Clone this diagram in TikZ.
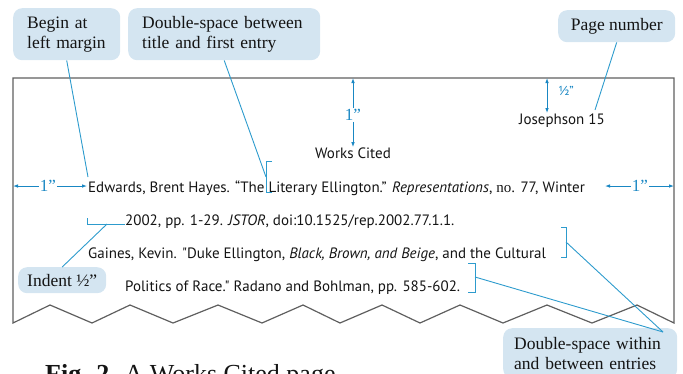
\documentclass[tikz,border=0pt]{standalone}
\usepackage{fontspec}
\setmainfont{Liberation Serif}
\newfontfamily\pagefont{PT Sans}
\usetikzlibrary{arrows.meta}
\definecolor{lead}{RGB}{45,155,205}
\definecolor{calloutfill}{RGB}{212,229,241}
\definecolor{pageborder}{RGB}{95,95,95}
\definecolor{dimblue}{RGB}{25,135,195}
\definecolor{txt}{RGB}{20,20,20}
\tikzset{
  callout/.style={fill=calloutfill, rounded corners=9pt, inner sep=0pt, text=txt,
    font=\fontsize{17.5}{20}\selectfont},
  leader/.style={draw=lead, line width=0.9pt},
  dimline/.style={draw=dimblue, line width=0.9pt, -{Latex[length=5pt,width=3.6pt]}},
  dimlabel/.style={text=dimblue, inner sep=1pt, font=\fontsize{17}{17}\selectfont},
  pagetext/.style={anchor=base west, inner sep=0pt, text=txt, font=\pagefont\fontsize{15}{15}\selectfont},
  pageline/.style={draw=pageborder, line width=1.2pt, line join=miter},
}
\begin{document}
\begin{tikzpicture}[x=1pt,y=-1pt]
\useasboundingbox (0,0) rectangle (683,373);

% page outline with torn bottom
\draw[pageline] (13,323) -- (13,78) -- (674,78) -- (674,323)
  -- (637,305) -- (592,323) -- (547,305) -- (503,323) -- (460,305) -- (420,323)
  -- (382,305) -- (340,323) -- (303,305) -- (262,323) -- (218,305) -- (173,323)
  -- (130,305) -- (92,323) -- (50,305) -- cycle;

% callouts
\node[callout, minimum width=107pt, minimum height=52pt, text width=79pt, align=left, anchor=north west] (begin) at (13,8) {Begin at\\left margin};
\node[callout, minimum width=192pt, minimum height=52pt, text width=164pt, align=left, anchor=north west] (dbl) at (128,8) {Double-space between\\title and first entry};
\node[callout, minimum width=117pt, minimum height=32pt, anchor=north west] (pnum) at (558,10) {Page number};
\node[callout, minimum width=88pt, minimum height=26pt, anchor=north west] (indent) at (18,267) {Indent ½”};
\node[callout, minimum width=174pt, minimum height=50pt, text width=152pt, align=left, anchor=north west] (within) at (503,328) {Double-space within\\and between entries};

% page text
\node[anchor=base, inner sep=0pt, text=txt, font=\pagefont\fontsize{15}{15}\selectfont] (joseph) at (562,124) {Josephson 15};
\node[anchor=base, inner sep=0pt, text=txt, font=\pagefont\fontsize{15}{15}\selectfont] (works) at (353,158) {Works Cited};
\node[pagetext] (l1) at (88,192) {Edwards, Brent Hayes. “The Literary Ellington.” \textit{Representations}, {\rmfamily no.} 77, Winter};
\node[pagetext] (l2) at (125,225) {2002, pp. 1-29. \textit{JSTOR}, doi:10.1525/rep.2002.77.1.1.};
\node[pagetext] (l3) at (88,258) {Gaines, Kevin. "Duke Ellington, \textit{Black, Brown, and Beige}, and the Cultural};
\node[pagetext] (l4) at (125,291) {Politics of Race." Radano and Bohlman, pp. 585-602.};

% brackets
\coordinate (litA) at (272,161); \coordinate (litB) at (266,161);
\coordinate (litC) at (266,192); \coordinate (litD) at (272,192);
\coordinate (litM) at (266,177);
\draw[leader] (litA) -- (litB) -- (litC) -- (litD);
\coordinate (indA) at (87,218); \coordinate (indB) at (87,224); \coordinate (indC) at (125,224);
\coordinate (indM) at (107,224);
\draw[leader] (indA) -- (indB) -- (indC);
\coordinate (culA) at (561,227); \coordinate (culB) at (566,227);
\coordinate (culC) at (566,257); \coordinate (culD) at (561,257);
\coordinate (culM) at (566,242);
\draw[leader] (culA) -- (culB) -- (culC) -- (culD);
\coordinate (polA) at (468,263); \coordinate (polB) at (475,263);
\coordinate (polC) at (475,292); \coordinate (polD) at (468,292);
\coordinate (polM) at (475,277);
\draw[leader] (polA) -- (polB) -- (polC) -- (polD);

% leaders
\coordinate (edw) at (88,177);
\coordinate (jend) at (595,110);
\coordinate (wtip) at (663,332);
\draw[leader] (begin.south) -- (edw);
\draw[leader] (dbl.south) -- (litM);
\draw[leader] (pnum.south) -- (jend);
\draw[leader] (indM) -- (indent.north);
\draw[leader] (culM) -- (wtip);
\draw[leader] (polM) -- (wtip);

% dimensions
\node[dimlabel] (top1) at (353,115) {1”};
\coordinate (toptip) at (353,78);
\draw[dimline] (top1.north) -- (toptip);
\draw[dimline] (top1.south) -- (works.north);

\coordinate (hA) at (547,78); \coordinate (hB) at (547,113);
\draw[dimline, {Latex[length=5pt,width=3.6pt]}-{Latex[length=5pt,width=3.6pt]}] (hA) -- (hB);
\node[text=dimblue, inner sep=0pt, font=\pagefont\fontsize{13}{13}\selectfont] (half) at (566,91) {½”};

\node[dimlabel] (left1) at (48,186) {1”};
\coordinate (lefttip) at (13,186);
\coordinate (edwtip) at (87,186);
\draw[dimline] (left1.west) -- (lefttip);
\draw[dimline] (left1.east) -- (edwtip);

\node[dimlabel] (right1) at (640,186) {1”};
\coordinate (rtipA) at (605,186);
\coordinate (rtipB) at (674,186);
\draw[dimline] (right1.west) -- (rtipA);
\draw[dimline] (right1.east) -- (rtipB);

% caption (cut off by the lower edge, as in the reference)
\node[anchor=base west, inner sep=0pt, text=txt, font=\fontsize{26}{26}\selectfont] (cap) at (45,382) {\textbf{Fig. 2.} A Works Cited page};
\end{tikzpicture}
\end{document}
